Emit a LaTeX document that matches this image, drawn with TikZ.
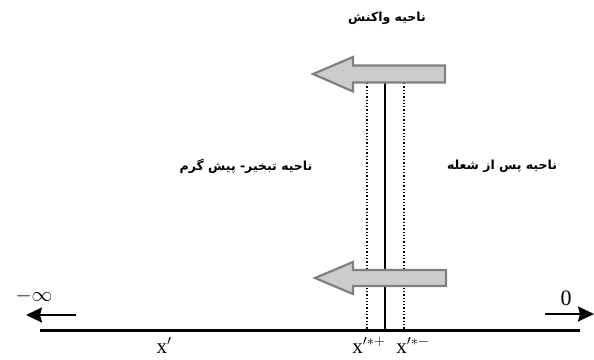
\documentclass[tikz,border=0pt]{standalone}
\usepackage{fontspec}
\usetikzlibrary{arrows.meta}
\TeXXeTstate=1
\newfontfamily\fa[Script=Arabic]{DejaVu Sans}
\newfontfamily\tnr{Liberation Serif}
\begin{document}
\begin{tikzpicture}[x=1pt,y=-1pt,
  fatarrow/.style={fill=black!20,draw=black!50,line width=2.2pt,line join=miter},
  falabel/.style={font=\fa\bfseries\fontsize{12.5}{15}\selectfont,inner sep=0pt},
  mlabel/.style={font=\tnr\fontsize{22}{24}\selectfont,inner sep=0pt},
  xlabel/.style={mlabel,font=\tnr\fontsize{21}{23}\selectfont,anchor=base,text depth=0pt},
  axisarrow/.style={line width=2pt,-{Stealth[length=16pt,width=15pt,inset=2pt]}},
  dotline/.style={line width=1.3pt,dotted}]
\useasboundingbox (0,0) rectangle (594,359);
% axis
\coordinate (a0) at (40,330);
\coordinate (a1) at (580,330);
\draw[line width=3pt] (a0) -- (a1);
% small arrows
\coordinate (l1) at (76,315);
\coordinate (l2) at (26,315);
\draw[axisarrow] (l1) -- (l2);
\coordinate (r1) at (545,314);
\coordinate (r2) at (594,314);
\draw[axisarrow] (r1) -- (r2);
% vertical lines
\coordinate (vt) at (385,83);
\coordinate (vb) at (385,330);
\draw[line width=2pt] (vt) -- (vb);
\coordinate (dlt) at (367,83);
\coordinate (dlb) at (367,330);
\draw[dotline] (dlt) -- (dlb);
\coordinate (drt) at (404,83);
\coordinate (drb) at (404,330);
\draw[dotline] (drt) -- (drb);
% fat arrows
\draw[fatarrow] (445,65.5) -- (353,65.5) -- (353,57) -- (313,74) -- (353,91.5) -- (353,82.5) -- (445,82.5) -- cycle;
\draw[fatarrow] (446,270) -- (353,270) -- (353,262) -- (315,278) -- (353,294) -- (353,286) -- (446,286) -- cycle;
% labels
\node[falabel] (t1) at (387,18) {\beginR ناحیه واکنش\endR};
\node[falabel] (t2) at (246,166) {\beginR ناحیه تبخیر- پیش گرم\endR};
\node[falabel] (t3) at (502,166) {\beginR ناحیه پس از شعله\endR};
\node[mlabel] (minf) at (34,296) {$-\infty$};
\node[mlabel] (zero) at (566,298) {0};
\node[xlabel] (xp) at (164,353) {x$'$};
\node[xlabel] (xpp) at (369,353) {x$'^{*+}$};
\node[xlabel] (xpm) at (413,353) {x$'^{*-}$};
\end{tikzpicture}
\end{document}
